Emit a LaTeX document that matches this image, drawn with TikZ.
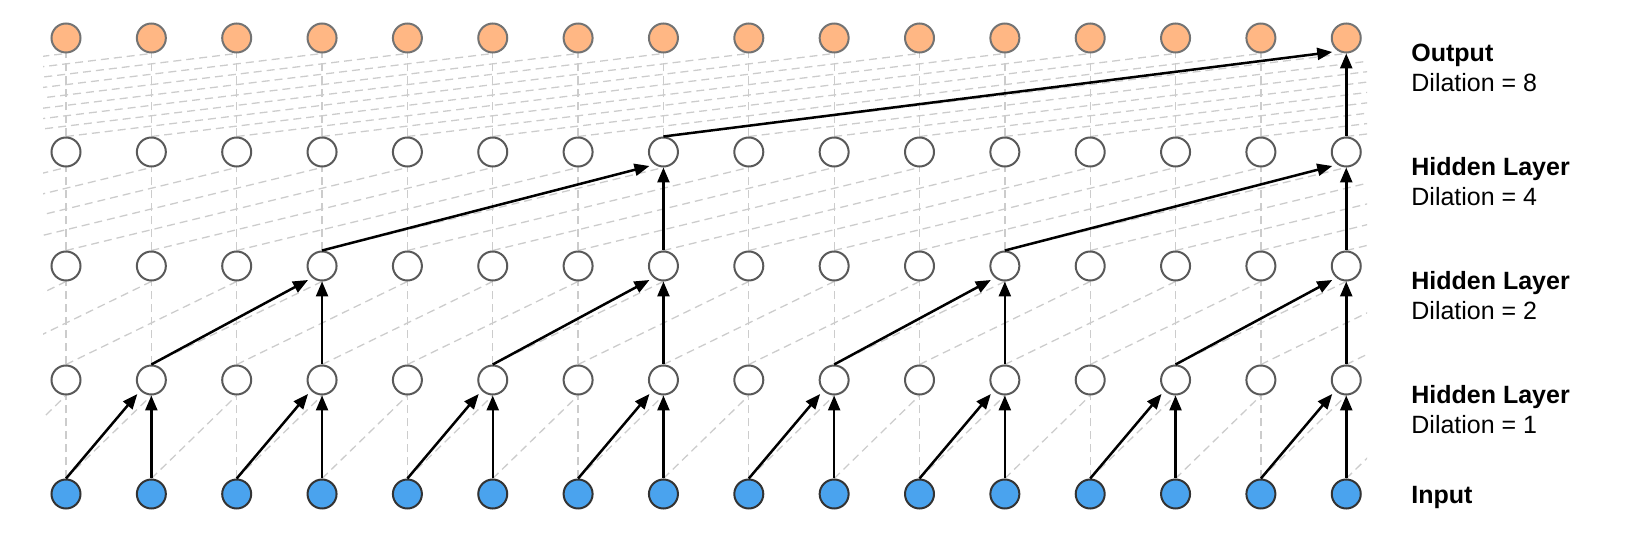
\documentclass[tikz,border=0pt]{standalone}
\usepackage{fontspec}
\setmainfont{Liberation Sans}
\usepackage{xcolor}
\usetikzlibrary{arrows.meta}

\definecolor{outfill}{HTML}{FFB784}
\definecolor{infill}{HTML}{4AA3EE}
\definecolor{gridgray}{HTML}{CCCCCC}

\tikzset{
  unit/.style={circle, minimum size=14.5pt, inner sep=0pt, line width=1pt, draw=black!65, fill=white},
  inunit/.style={unit, fill=infill, draw=black!80},
  outunit/.style={unit, fill=outfill, draw=black!55},
  hidunit/.style={unit},
  grid/.style={gridgray, line width=0.65pt, dash pattern=on 4pt off 2.5pt},
  conn/.style={line width=1.25pt, -{Triangle[length=7.5pt,width=6pt]}},
  lbl/.style={inner sep=0pt, font=\fontsize{12.5}{15}\selectfont},
}

\begin{document}
\begin{tikzpicture}[x=0.5pt, y=-0.5pt]
\useasboundingbox (0,0) rectangle (1630,534);
\def\dx{85.35}
% grid points, column k-8
\foreach \r/\y in {0/494,1/380,2/266,3/152,4/38}
  \foreach \k in {0,...,31} {
    \coordinate (t\r-\k) at (66+\k*\dx-8*\dx, \y-15.5);
    \coordinate (b\r-\k) at (66+\k*\dx-8*\dx, \y+15.5);
  }
% dashed background
\begin{scope}
\clip (43,0) rectangle (1367,534);
\foreach \l/\d in {1/1,2/2,3/4,4/8} {
  \pgfmathtruncatemacro\p{\l-1}
  \pgfmathtruncatemacro\kmax{23+\d}
  \foreach \k in {8,...,23}
    \draw[grid] (t\p-\k) -- (b\l-\k);
  \foreach \k in {8,...,\kmax} {
    \pgfmathtruncatemacro\s{\k-\d}
    \draw[grid] (t\p-\s) -- (b\l-\k);
  }
}
\end{scope}
% units
\foreach \i in {0,...,15} {
  \node[inunit] (in\i) at (66+\i*\dx,494) {};
  \node[hidunit] (ha\i) at (66+\i*\dx,380) {};
  \node[hidunit] (hb\i) at (66+\i*\dx,266) {};
  \node[hidunit] (hc\i) at (66+\i*\dx,152) {};
  \node[outunit] (out\i) at (66+\i*\dx,38) {};
}
% dilation 1
\foreach \i [evaluate=\i as \j using int(\i-1)] in {1,3,...,15} {
  \draw[conn] (in\i.north) -- (ha\i.south);
  \draw[conn] (in\j.north) -- ([shift={(-14,14)}]ha\i.center);
}
% dilation 2
\foreach \i [evaluate=\i as \j using int(\i-2)] in {3,7,11,15} {
  \draw[conn] (ha\i.north) -- (hb\i.south);
  \draw[conn] (ha\j.north) -- ([shift={(-14,14)}]hb\i.center);
}
% dilation 4
\foreach \i [evaluate=\i as \j using int(\i-4)] in {7,15} {
  \draw[conn] (hb\i.north) -- (hc\i.south);
  \draw[conn] (hb\j.north) -- ([shift={(-14,14)}]hc\i.center);
}
% dilation 8
\draw[conn] (hc15.north) -- (out15.south);
\draw[conn] (hc7.north) -- ([shift={(-14,14)}]out15.center);
% labels
\node[lbl, anchor=base west] (lab-out) at (1411,62) {\bfseries Output};
\node[lbl, anchor=base west] (dil-out) at (1411,92) {Dilation = 8};
\node[lbl, anchor=base west] (lab-hc) at (1411,176) {\bfseries Hidden Layer};
\node[lbl, anchor=base west] (dil-hc) at (1411,206) {Dilation = 4};
\node[lbl, anchor=base west] (lab-hb) at (1411,290) {\bfseries Hidden Layer};
\node[lbl, anchor=base west] (dil-hb) at (1411,320) {Dilation = 2};
\node[lbl, anchor=base west] (lab-ha) at (1411,404) {\bfseries Hidden Layer};
\node[lbl, anchor=base west] (dil-ha) at (1411,434) {Dilation = 1};
\node[lbl, anchor=base west] (lab-in) at (1411,503) {\bfseries Input};
\end{tikzpicture}
\end{document}
